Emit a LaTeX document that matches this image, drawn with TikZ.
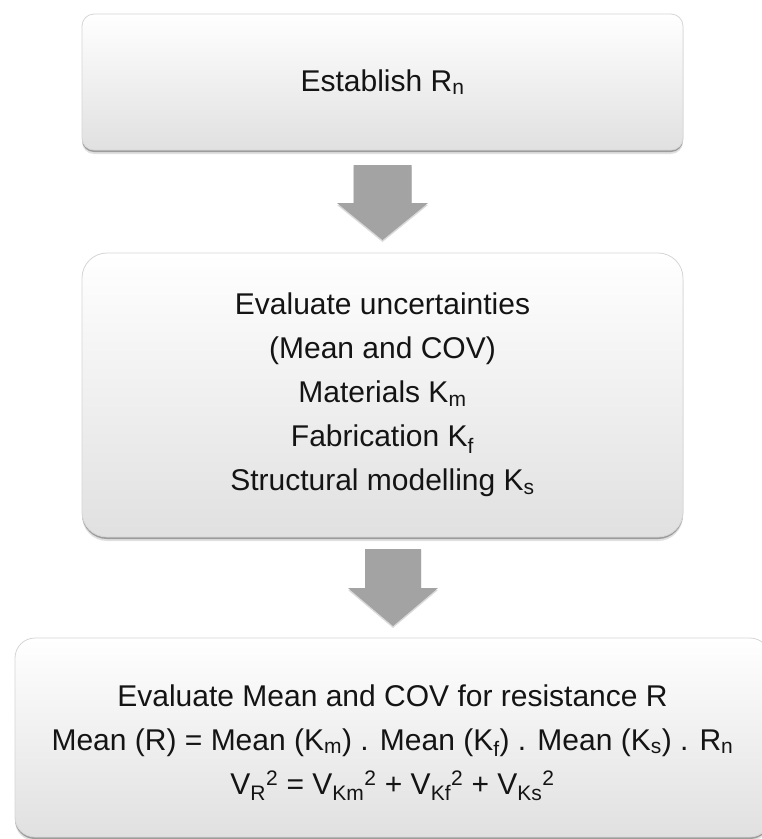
\documentclass[tikz,border=0pt]{standalone}
\usepackage{fontspec}
\setmainfont{Liberation Sans}
\usetikzlibrary{shadows,calc}
\definecolor{txt}{HTML}{141414}
\definecolor{arrowgray}{HTML}{A3A3A3}
\tikzset{
  box/.style={rectangle, draw=black!16, line width=0.8pt,
    top color=white, middle color=white, bottom color=black!12,
    align=center, text=txt, font=\fontsize{30}{44}\selectfont, inner sep=0pt,
    drop shadow={shadow xshift=0pt, shadow yshift=-4pt, fill=black, opacity=0.12},
    drop shadow={shadow xshift=0pt, shadow yshift=-2pt, fill=black, opacity=0.3}},
  blockarrow/.style={fill=arrowgray, draw=none,
    drop shadow={shadow xshift=0pt, shadow yshift=-2pt, fill=black, opacity=0.15}}
}
\begin{document}
\begin{tikzpicture}[x=1pt,y=-1pt]
\useasboundingbox (0,0) rectangle (762,839);
\clip (0,0) rectangle (762,839);
\fill[white] (0,0) rectangle (762,839);

\node[box, rounded corners=12pt, minimum width=601pt, minimum height=136pt] (top) at (382.5,82)
  {Establish R\textsubscript{n}};

\node[box, rounded corners=25pt, minimum width=601pt, minimum height=284pt] (mid) at (382.5,395)
  {Evaluate uncertainties\\(Mean and COV)\\Materials K\textsubscript{m}\\Fabrication K\textsubscript{f}\\Structural modelling K\textsubscript{s}};

\node[box, rounded corners=20pt, minimum width=755pt, minimum height=199pt] (bot) at (392.5,737.5)
  {\rule{0pt}{32pt}Evaluate Mean and COV for resistance R\\
   Mean (R) = Mean (K\textsubscript{m}) . Mean (K\textsubscript{f}) . Mean (K\textsubscript{s}) . R\textsubscript{n}\\
   V\textsubscript{R}\textsuperscript{2} = V\textsubscript{Km}\textsuperscript{2} + V\textsubscript{Kf}\textsuperscript{2} + V\textsubscript{Ks}\textsuperscript{2}};

% block arrows between the boxes
\coordinate (a1) at ($(top.south)!0.5!(mid.north)+(0,1)$);
\coordinate (a2) at ($(mid.south)!0.5!(bot.north)+(5.5,0)$);

\path[blockarrow] ($(a1)+(-29,-37.5)$) -- ($(a1)+(29,-37.5)$) -- ($(a1)+(29,0.5)$)
  -- ($(a1)+(45.5,0.5)$) -- ($(a1)+(0,37.5)$) -- ($(a1)+(-45.5,0.5)$)
  -- ($(a1)+(-29,0.5)$) -- cycle;
\path[blockarrow] ($(a2)+(-28,-38.5)$) -- ($(a2)+(28,-38.5)$) -- ($(a2)+(28,0.5)$)
  -- ($(a2)+(45,0.5)$) -- ($(a2)+(0,38.5)$) -- ($(a2)+(-45,0.5)$)
  -- ($(a2)+(-28,0.5)$) -- cycle;
\end{tikzpicture}
\end{document}
